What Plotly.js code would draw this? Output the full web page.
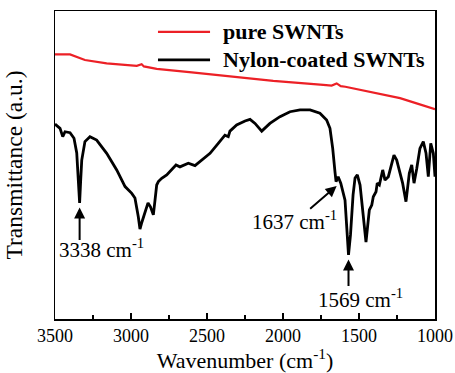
<!DOCTYPE html>
<html>
<head>
<meta charset="utf-8">
<script src="https://cdn.plot.ly/plotly-3.0.1.min.js"></script>
<style>
  html, body { margin: 0; padding: 0; background: #fff; }
  #chart { width: 455px; height: 373px; }
</style>
</head>
<body>
<div id="chart"></div>
<script>
// FTIR spectra: transmittance (arbitrary units) vs wavenumber (cm^-1)
const pureWn = [3500, 3401, 3303, 3160, 2962, 2945, 2930, 2915, 2831, 2600, 2370, 2064, 1735, 1680, 1647, 1620, 1590, 1515, 1406, 1300, 1230, 1121, 1011, 1000];
const pureT  = [85.9, 85.9, 84.1, 83.0, 82.2, 82.6, 82.7, 82.0, 81.2, 80.1, 78.9, 77.3, 76.0, 75.8, 76.5, 75.6, 75.4, 74.6, 73.5, 72.4, 71.7, 70.0, 68.4, 68.1];

const nylonWn = [3500, 3467, 3449, 3434, 3401, 3375, 3357, 3347, 3338, 3331, 3324, 3303, 3270, 3226, 3160, 3094,
  3039, 2995, 2974, 2952, 2941, 2928, 2908, 2888, 2872, 2853, 2842, 2831, 2820, 2798, 2765, 2732, 2704, 2678, 2623,
  2579, 2546, 2480, 2426, 2382, 2360, 2349, 2305, 2250, 2217, 2184, 2140, 2086, 2020, 1954, 1888, 1822, 1757, 1713,
  1691, 1673, 1658, 1651, 1637, 1620, 1592, 1582, 1569, 1556, 1539, 1526, 1511, 1493, 1472, 1454, 1432, 1416, 1406,
  1388, 1380, 1366, 1344, 1329, 1307, 1285, 1270, 1252, 1235, 1213, 1191, 1169, 1153, 1138, 1120, 1099, 1077, 1059,
  1044, 1028, 1011, 1000];
const nylonT = [63.3, 61.9, 59.2, 60.8, 60.5, 58.7, 53.9, 45.1, 37.7, 45.1, 51.6, 57.6, 59.2, 58.1, 53.8, 48.4,
  43.0, 40.8, 39.3, 33.2, 29.2, 31.5, 34.4, 37.7, 36.4, 33.8, 38.6, 43.5, 44.6, 45.7, 46.8, 48.4, 50.0, 49.4, 50.6,
  49.8, 51.1, 53.8, 57.0, 59.7, 59.2, 61.0, 63.0, 64.3, 64.8, 63.5, 61.0, 63.5, 65.7, 67.3, 67.9, 67.9, 66.8, 64.6,
  61.9, 55.4, 47.8, 44.6, 46.2, 44.1, 38.6, 30.5, 20.8, 27.3, 40.3, 45.8, 46.8, 43.5, 33.2, 25.0, 35.4, 37.0, 39.7,
  41.3, 44.1, 43.5, 48.4, 45.1, 46.2, 50.0, 53.2, 51.6, 48.4, 44.1, 38.1, 47.3, 50.0, 44.1, 48.9, 55.4, 57.6, 53.8,
  46.2, 57.0, 53.8, 46.2];

// Labelled absorption bands
const peakWn = [3338, 1637, 1569];
const peakT  = [37.7, 46.2, 20.8];

const seriesNames = ['pure SWNTs', 'Nylon-coated SWNTs'];
const seriesColors = ['rgb(236,32,38)', 'rgb(0,0,0)'];

const serif = 'Liberation Serif, Times New Roman, serif';

const traces = [
  { x: pureWn, y: pureT, name: seriesNames[0], type: 'scatter', mode: 'lines',
    line: { color: seriesColors[0], width: 2.2 }, showlegend: false },
  { x: nylonWn, y: nylonT, name: seriesNames[1], type: 'scatter', mode: 'lines',
    line: { color: seriesColors[1], width: 2.8 }, showlegend: false }
];

const cm = ' cm<sup>-1</sup>';
const annFont = { family: serif, size: 21, color: '#000' };
const arrowBase = { showarrow: true, arrowhead: 2, arrowsize: 1.1, arrowwidth: 2, arrowcolor: '#000', text: '', xref: 'x', yref: 'y' };

const annotations = [
  // arrows pointing at the bands
  Object.assign({}, arrowBase, { x: peakWn[0], y: peakT[0] - 1.5, ax: 0, ay: 34 }),
  Object.assign({}, arrowBase, { x: peakWn[1] + 10, y: peakT[1] - 3, ax: -28, ay: 24 }),
  Object.assign({}, arrowBase, { x: peakWn[2], y: peakT[2] - 1.5, ax: 0, ay: 28 }),
  // band labels
  { x: peakWn[0], y: peakT[0], xref: 'x', yref: 'y', xshift: 22, yshift: -46, showarrow: false,
    text: peakWn[0] + cm, font: annFont },
  { x: peakWn[1], y: peakT[1], xref: 'x', yref: 'y', xshift: -44, yshift: -44, showarrow: false,
    text: peakWn[1] + cm, font: annFont },
  { x: peakWn[2], y: peakT[2], xref: 'x', yref: 'y', xshift: 12, yshift: -44, showarrow: false,
    text: peakWn[2] + cm, font: annFont },
  // legend text
  { xref: 'paper', yref: 'paper', x: 0.437, y: 0.932, xanchor: 'left', yanchor: 'middle', showarrow: false,
    text: '<b>' + seriesNames[0] + '</b>', font: { family: serif, size: 22, color: '#000' } },
  { xref: 'paper', yref: 'paper', x: 0.437, y: 0.841, xanchor: 'left', yanchor: 'middle', showarrow: false,
    text: '<b>' + seriesNames[1] + '</b>', font: { family: serif, size: 22, color: '#000' } }
];

// legend sample lines
const shapes = [
  { type: 'line', xref: 'paper', yref: 'paper', x0: 0.271, x1: 0.408, y0: 0.932, y1: 0.932,
    line: { color: seriesColors[0], width: 2.2 } },
  { type: 'line', xref: 'paper', yref: 'paper', x0: 0.271, x1: 0.408, y0: 0.841, y1: 0.841,
    line: { color: seriesColors[1], width: 2.8 } }
];

const layout = {
  width: 455, height: 373,
  margin: { l: 55, r: 20, t: 11, b: 54 },
  paper_bgcolor: '#fff', plot_bgcolor: '#fff',
  font: { family: serif, color: '#000' },
  showlegend: false,
  xaxis: {
    range: [3500, 1000], dtick: 500, tick0: 1000,
    ticks: 'inside', ticklen: 6, tickwidth: 1.3, tickcolor: '#000',
    minor: { dtick: 250, ticks: 'inside', ticklen: 4, tickwidth: 1.3, tickcolor: '#000' },
    showline: true, linecolor: '#000', linewidth: 1.5, mirror: true,
    showgrid: false, zeroline: false,
    tickfont: { family: serif, size: 18, color: '#000' },
    title: { text: 'Wavenumber (cm<sup>-1</sup>)', font: { family: serif, size: 22, color: '#000' }, standoff: 11 }
  },
  yaxis: {
    range: [0, 100],
    showticklabels: false, ticks: '',
    showline: true, linecolor: '#000', linewidth: 1.5, mirror: true,
    showgrid: false, zeroline: false,
    title: { text: 'Transmittance (a.u.)', font: { family: serif, size: 23.5, color: '#000' }, standoff: 24 }
  },
  annotations: annotations,
  shapes: shapes
};

Plotly.newPlot('chart', traces, layout, { displayModeBar: false, staticPlot: true });
</script>
</body>
</html>
